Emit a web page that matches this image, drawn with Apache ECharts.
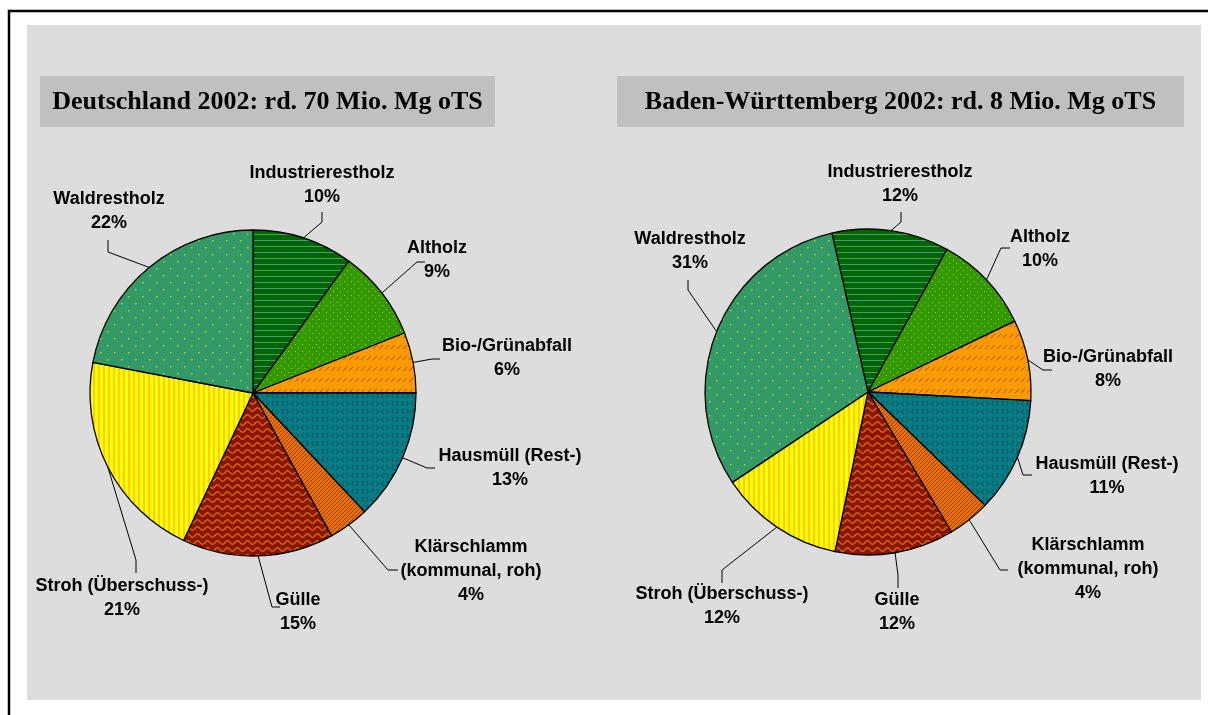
<!DOCTYPE html>
<html>
<head>
<meta charset="utf-8">
<script src="https://cdn.jsdelivr.net/npm/echarts@6/dist/echarts.min.js"></script>
<style>
  html, body { margin: 0; padding: 0; background: #fff; }
  #chart { width: 1208px; height: 715px; }
</style>
</head>
<body>
<div id="chart"></div>
<script>
// data
const categories = [
  'Industrierestholz',
  'Altholz',
  'Bio-/Grünabfall',
  'Hausmüll (Rest-)',
  'Klärschlamm\n(kommunal, roh)',
  'Gülle',
  'Stroh (Überschuss-)',
  'Waldrestholz'
];
const deValues = [10, 9, 6, 13, 4, 15, 21, 22];
const bwValues = [11.6, 9.8, 8.0, 11.4, 4.2, 11.8, 12.4, 30.8];
const deTitle = 'Deutschland 2002: rd. 70 Mio. Mg oTS';
const bwTitle = 'Baden-Württemberg 2002: rd. 8 Mio. Mg oTS';

// label spots: [centerX, centerY, elbowX, elbowY, endX, endY]
const deSpots = [
  [322, 185, 322, 222, 322, 212],
  [437, 260, 417, 262, 425, 262],
  [507, 358, 432, 359, 440, 359],
  [510, 468, 427, 468, 435, 468],
  [471, 571, 388, 570, 398, 570],
  [298, 612, 272, 607, 280, 607],
  [122, 598, 136, 560, 136, 573],
  [109, 211, 108, 252, 108, 240]
];
const bwSpots = [
  [900, 184, 901, 222, 901, 212],
  [1040, 249, 1001, 248, 1010, 248],
  [1108, 369, 1043, 370, 1052, 370],
  [1107, 476, 1023, 475, 1032, 475],
  [1088, 569, 1000, 570, 1008, 570],
  [897, 612, 898, 575, 898, 588],
  [722, 606, 722, 570, 722, 583],
  [690, 251, 688, 290, 688, 280]
];

// pattern fills (Excel-like)
function tile(w, h, bg, draw) {
  const c = document.createElement('canvas');
  c.width = w; c.height = h;
  const g = c.getContext('2d');
  g.fillStyle = bg;
  g.fillRect(0, 0, w, h);
  draw(g);
  return { image: c, repeat: 'repeat' };
}
function px(g, color, pts, s) {
  g.fillStyle = color;
  pts.forEach(p => g.fillRect(p[0], p[1], s || 1, s || 1));
}
const fills = [
  tile(1, 6, '#006600', g => px(g, '#4d9a6e', [[0, 0]])),
  tile(7, 7, '#339900', g => px(g, '#a8d400', [[1, 1], [4, 4]])),
  tile(6, 11, '#ff9900', g => px(g, '#a84f00', [[1, 7], [2, 6], [3, 5], [4, 4]])),
  tile(10, 8, '#008080', g => px(g, '#16306e', [[3, 1], [2, 2], [1, 3], [2, 4], [3, 5], [6, 1], [7, 2], [8, 3], [7, 4], [6, 5]])),
  tile(4, 4, '#ff6600', g => px(g, '#5c5c2e', [[0, 3], [1, 2], [2, 1], [3, 0]])),
  tile(10, 7, '#8a1500', g => {
    g.strokeStyle = '#e07000';
    g.lineWidth = 1.3;
    g.beginPath();
    for (let x = 0; x <= 10; x += 0.5) {
      const y = 3.5 + 1.8 * Math.sin(x / 10 * Math.PI * 2);
      if (x === 0) g.moveTo(x, y); else g.lineTo(x, y);
    }
    g.stroke();
  }),
  tile(5, 1, '#ffff00', g => { g.fillStyle = '#ffcc00'; g.fillRect(3, 0, 2, 1); }),
  tile(14, 14, '#339966', g => px(g, '#b4dc10', [[2, 2], [9, 9]], 1.5))
];

function pieData(values) {
  return values.map((v, i) => ({ value: v, name: categories[i], itemStyle: { color: fills[i] } }));
}

function layoutFor(spots) {
  return function (p) {
    const s = spots[p.dataIndex];
    const out = { x: s[0], y: s[1], align: 'center', verticalAlign: 'middle' };
    if (p.labelLinePoints) {
      out.labelLinePoints = [p.labelLinePoints[0], [s[2], s[3]], [s[4], s[5]]];
    }
    return out;
  };
}

const labelStyle = {
  show: true,
  position: 'outside',
  formatter: '{b}\n{d}%',
  color: '#000',
  fontFamily: '"Liberation Sans", Arial, sans-serif',
  fontWeight: 'bold',
  fontSize: 18,
  lineHeight: 24
};
const lineStyle = { show: true, length: 10, length2: 10, lineStyle: { color: '#000', width: 1 } };

function pieSeries(values, center, startAngle, spots) {
  return {
    type: 'pie',
    center: center,
    radius: 163,
    startAngle: startAngle,
    clockwise: true,
    percentPrecision: 0,
    avoidLabelOverlap: false,
    data: pieData(values),
    itemStyle: { borderColor: '#000', borderWidth: 1.3 },
    label: labelStyle,
    labelLine: lineStyle,
    labelLayout: layoutFor(spots),
    emphasis: { disabled: true }
  };
}

const titleFont = 'bold 26px "Liberation Serif", "Times New Roman", serif';

const chart = echarts.init(document.getElementById('chart'), null, { renderer: 'canvas' });
chart.setOption({
  animation: false,
  backgroundColor: '#fff',
  graphic: [
    { type: 'rect', z: -10, silent: true, shape: { x: 27, y: 25, width: 1174, height: 675 }, style: { fill: '#dddddd' } },
    { type: 'rect', z: -9, silent: true, shape: { x: 9, y: 11, width: 1300, height: 800 }, style: { fill: 'none', stroke: '#000', lineWidth: 2.5 } },
    { type: 'rect', z: -8, silent: true, shape: { x: 40, y: 76, width: 455, height: 51 }, style: { fill: '#c0c0c0' } },
    { type: 'rect', z: -8, silent: true, shape: { x: 617, y: 76, width: 567, height: 51 }, style: { fill: '#c0c0c0' } },
    { type: 'text', z: -7, silent: true, x: 267.5, y: 102, style: { text: deTitle, font: titleFont, fill: '#000', align: 'center', verticalAlign: 'middle' } },
    { type: 'text', z: -7, silent: true, x: 900.5, y: 102, style: { text: bwTitle, font: titleFont, fill: '#000', align: 'center', verticalAlign: 'middle' } }
  ],
  series: [
    pieSeries(deValues, [253, 393], 90, deSpots),
    pieSeries(bwValues, [868, 392], 102.8, bwSpots)
  ]
});
</script>
</body>
</html>
